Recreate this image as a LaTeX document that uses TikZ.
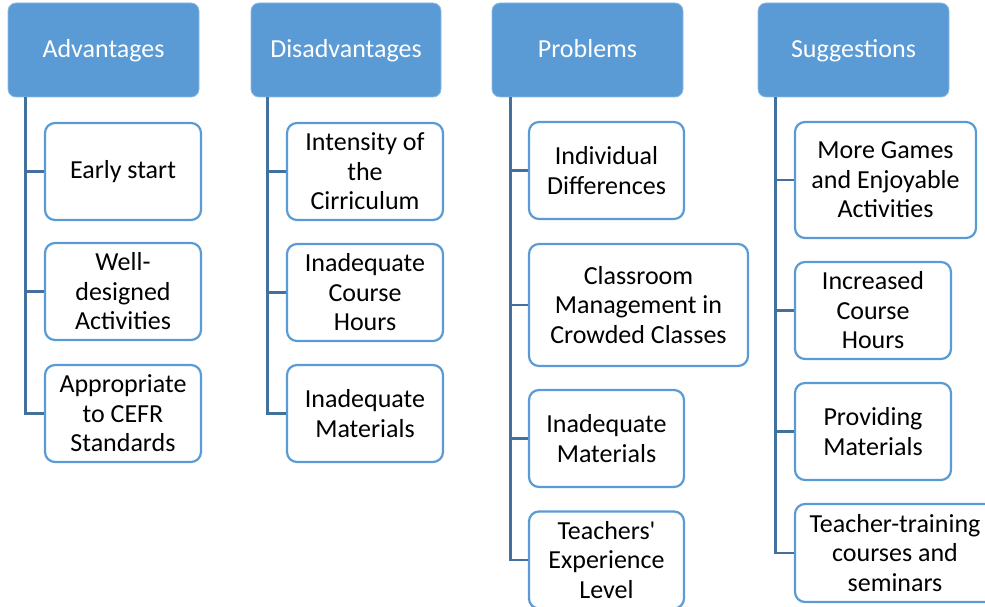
\documentclass[tikz,border=0pt]{standalone}
\usepackage{fontspec}
\setmainfont{Carlito}[Ligatures=TeXOff]
\definecolor{hdr}{HTML}{5B9BD5}
\definecolor{conn}{HTML}{41719C}
\tikzset{
  hdrbox/.style={rectangle, rounded corners=8pt, fill=hdr, draw=hdr!70!white, line width=0.8pt, text=white, inner sep=0pt, align=center, text height=20pt, text depth=4pt, font=\fontsize{26}{29.5}\selectfont},
  chbox/.style={rectangle, rounded corners=10pt, fill=white, draw=hdr, line width=2.2pt, text=black, inner sep=0pt, align=center, font=\fontsize{26}{29.5}\selectfont},
  connline/.style={draw=conn, line width=2.8pt}
}
\begin{document}
\begin{tikzpicture}[x=1pt,y=-1pt]
\useasboundingbox (0,0) rectangle (985,607);
\clip (0,0) rectangle (985,607);
% headers
\node[hdrbox, minimum width=191pt, minimum height=94pt] (A) at (103.5,50) {Advantages};
\node[hdrbox, minimum width=190pt, minimum height=94pt] (D) at (346,50) {Disadvantages};
\node[hdrbox, minimum width=191pt, minimum height=94pt] (P) at (587.5,50) {Problems};
\node[hdrbox, minimum width=191pt, minimum height=94pt] (S) at (853.5,50) {Suggestions};
% trunk coordinates
\coordinate (Ax) at ([xshift=18pt]A.south west);
\coordinate (Dx) at ([xshift=17pt]D.south west);
\coordinate (Px) at ([xshift=19pt]P.south west);
\coordinate (Sx) at ([xshift=18pt]S.south west);
% Advantages children
\node[chbox, minimum width=156pt, minimum height=97pt] (a1) at (123,171.5) {Early start};
\node[chbox, minimum width=156pt, minimum height=97pt] (a2) at (123,291.5) {Well-\\designed\\Activities};
\node[chbox, minimum width=156pt, minimum height=97pt] (a3) at (123,413.5) {Appropriate\\to CEFR\\Standards};
% Disadvantages children
\node[chbox, minimum width=156pt, minimum height=97pt] (d1) at (365,171.5) {Intensity of\\the\\Cirriculum};
\node[chbox, minimum width=156pt, minimum height=97pt] (d2) at (365,292.5) {Inadequate\\Course\\Hours};
\node[chbox, minimum width=156pt, minimum height=97pt] (d3) at (365,413.5) {Inadequate\\Materials};
% Problems children
\node[chbox, minimum width=155pt, minimum height=97pt] (p1) at (606.5,170.5) {Individual\\Differences};
\node[chbox, minimum width=219pt, minimum height=122pt] (p2) at (638.5,305) {Classroom\\Management in\\Crowded Classes};
\node[chbox, minimum width=155pt, minimum height=97pt] (p3) at (606.5,438.5) {Inadequate\\Materials};
\node[chbox, minimum width=155pt, minimum height=97pt] (p4) at (606.5,560) {Teachers'\\Experience\\Level};
% Suggestions children
\node[chbox, minimum width=181pt, minimum height=116pt] (s1) at (885.5,180) {More Games\\and Enjoyable\\Activities};
\node[chbox, minimum width=156pt, minimum height=97pt] (s2) at (873,310.5) {Increased\\Course\\Hours};
\node[chbox, minimum width=156pt, minimum height=97pt] (s3) at (873,431.5) {Providing\\Materials};
\node[chbox, minimum width=200pt, minimum height=98pt] (s4) at (895,553) {Teacher-training\\courses and\\seminars};
% connectors
\draw[connline] (Ax) |- (a3.west);
\draw[connline] (a1.west) -- (a1.west -| Ax);
\draw[connline] (a2.west) -- (a2.west -| Ax);
\draw[connline] (Dx) |- (d3.west);
\draw[connline] (d1.west) -- (d1.west -| Dx);
\draw[connline] (d2.west) -- (d2.west -| Dx);
\draw[connline] (Px) |- (p4.west);
\draw[connline] (p1.west) -- (p1.west -| Px);
\draw[connline] (p2.west) -- (p2.west -| Px);
\draw[connline] (p3.west) -- (p3.west -| Px);
\draw[connline] (Sx) |- (s4.west);
\draw[connline] (s1.west) -- (s1.west -| Sx);
\draw[connline] (s2.west) -- (s2.west -| Sx);
\draw[connline] (s3.west) -- (s3.west -| Sx);
\end{tikzpicture}
\end{document}
